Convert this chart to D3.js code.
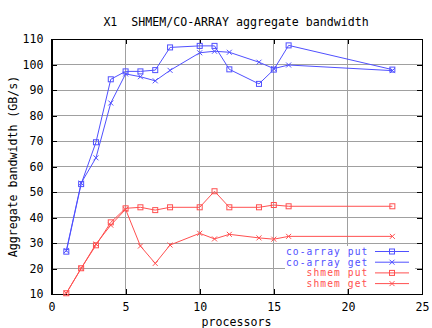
<!DOCTYPE html>
<html>
<head>
<meta charset="utf-8">
<script src="https://cdn.jsdelivr.net/npm/d3@7"></script>
<style>
  html, body { margin: 0; padding: 0; background: #fff; }
  svg { display: block; }
  text { font-family: "DejaVu Sans Mono", "Liberation Mono", monospace; font-size: 11.6px; fill: #000; white-space: pre; }
  .legend text { font-size: 9.6px; letter-spacing: 1.1px; }
</style>
</head>
<body>
<svg id="chart" width="432" height="328"></svg>
<script>
// Processor counts measured for each series
const procCoarray = [1, 2, 3, 4, 5, 6, 7, 8, 10, 11, 12, 14, 15, 16, 23];
const procShmem   = [1, 2, 3, 4, 5, 6, 7, 8, 10, 11, 12, 14, 15, 16, 23];

// Aggregate bandwidth in GB/s
const coarrayPut = [26.6, 53.1, 69.5, 94.2, 97.3, 97.3, 97.8, 106.7, 107.3, 107.3, 98.1, 92.4, 98.0, 107.5, 98.0];
const coarrayGet = [27.0, 53.5, 63.4, 84.9, 96.3, 95.2, 93.6, 97.7, 104.6, 105.2, 104.8, 100.9, 98.4, 99.8, 97.6];
const shmemPut   = [10.3, 20.1, 29.1, 38.1, 43.6, 44.0, 42.9, 44.0, 44.0, 50.3, 44.0, 44.0, 44.9, 44.4, 44.4];
const shmemGet   = [10.3, 20.0, 29.6, 37.0, 43.2, 28.8, 22.0, 29.2, 33.8, 31.6, 33.4, 32.0, 31.5, 32.6, 32.6];

const xTicks = [0, 5, 10, 15, 20, 25];
const yTicks = [10, 20, 30, 40, 50, 60, 70, 80, 90, 100, 110];

const titleText = "X1  SHMEM/CO-ARRAY aggregate bandwidth";
const xLabel = "processors";
const yLabel = "Aggregate bandwidth (GB/s)";

const blue = "#5050ff";
const red = "#ff5050";

const series = [
  { name: "co-array put", xs: procCoarray, ys: coarrayPut, color: blue, marker: "square" },
  { name: "co-array get", xs: procCoarray, ys: coarrayGet, color: blue, marker: "cross" },
  { name: "shmem put",    xs: procShmem,   ys: shmemPut,   color: red,  marker: "square" },
  { name: "shmem get",    xs: procShmem,   ys: shmemGet,   color: red,  marker: "cross" }
];

const svg = d3.select("#chart");
const plotL = 51.5, plotR = 422, plotT = 39, plotB = 294;

const x = d3.scaleLinear().domain([0, 25]).range([plotL, plotR]);
const y = d3.scaleLinear().domain([10, 110]).range([plotB, plotT]);

// Grid lines
const grid = svg.append("g").attr("shape-rendering", "crispEdges")
  .attr("stroke", "#a0a0a0").attr("stroke-width", 1);
grid.selectAll("line.gx").data(xTicks.slice(1, -1)).join("line")
  .attr("x1", d => x(d)).attr("x2", d => x(d)).attr("y1", plotT).attr("y2", plotB);
grid.selectAll("line.gy").data(yTicks.slice(1, -1)).join("line")
  .attr("x1", plotL).attr("x2", plotR).attr("y1", d => y(d)).attr("y2", d => y(d));

// Legend background hides the grid behind it
svg.append("rect").attr("x", 285).attr("y", 246).attr("width", 130).attr("height", 43)
  .attr("fill", "#fff");

// Axes: ticks drawn inward on all four sides
const tickLen = 5;
const axG = svg.append("g").attr("shape-rendering", "crispEdges");
axG.append("g").attr("transform", `translate(0,${plotB})`)
  .call(d3.axisBottom(x).tickValues(xTicks).tickSizeInner(-tickLen).tickSizeOuter(0).tickPadding(9));
axG.append("g").attr("transform", `translate(0,${plotT})`)
  .call(d3.axisTop(x).tickValues(xTicks).tickSizeInner(-tickLen).tickSizeOuter(0).tickFormat(""));
axG.append("g").attr("transform", `translate(${plotL},0)`)
  .call(d3.axisLeft(y).tickValues(yTicks).tickSizeInner(-tickLen).tickSizeOuter(0).tickPadding(8));
axG.append("g").attr("transform", `translate(${plotR},0)`)
  .call(d3.axisRight(y).tickValues(yTicks).tickSizeInner(-tickLen).tickSizeOuter(0).tickFormat(""));
axG.selectAll(".domain").attr("stroke", "#000");
axG.selectAll(".tick line").attr("stroke", "#000");
axG.selectAll("text").attr("font-family", null).attr("font-size", null).attr("fill", "#000");

// Plot frame
svg.append("rect").attr("x", plotL).attr("y", plotT).attr("width", plotR - plotL).attr("height", plotB - plotT)
  .attr("fill", "none").attr("stroke", "#000").attr("shape-rendering", "crispEdges");

// Marker drawing
function drawMarker(g, cx, cy, kind, color) {
  if (kind === "square") {
    g.append("rect").attr("x", cx - 2.5).attr("y", cy - 2.5).attr("width", 5).attr("height", 5)
      .attr("fill", "none").attr("stroke", color).attr("stroke-width", 1);
  } else {
    g.append("path").attr("d", `M${cx - 2.5},${cy - 2.5}L${cx + 2.5},${cy + 2.5}M${cx - 2.5},${cy + 2.5}L${cx + 2.5},${cy - 2.5}`)
      .attr("stroke", color).attr("stroke-width", 1).attr("fill", "none");
  }
}

const line = d3.line().x(d => x(d[0])).y(d => y(d[1]));
series.forEach(s => {
  const pts = s.xs.map((v, i) => [v, s.ys[i]]);
  const g = svg.append("g");
  g.append("path").attr("d", line(pts)).attr("fill", "none")
    .attr("stroke", s.color).attr("stroke-width", 1);
  pts.forEach(p => drawMarker(g, x(p[0]), y(p[1]), s.marker, s.color));
});

// Legend
const legend = svg.append("g").attr("class", "legend");
series.forEach((s, i) => {
  const ly = 251.5 + i * 10.7;
  legend.append("text").attr("x", 368.5).attr("y", ly).attr("text-anchor", "end")
    .attr("dominant-baseline", "central").style("fill", s.color).text(s.name);
  legend.append("line").attr("x1", 375).attr("x2", 409).attr("y1", ly).attr("y2", ly)
    .attr("stroke", s.color).attr("stroke-width", 1);
  drawMarker(legend, 392, ly, s.marker, s.color);
});

// Titles
svg.append("text").attr("x", 236).attr("y", 26).attr("text-anchor", "middle").text(titleText);
svg.append("text").attr("x", 236.5).attr("y", 322).attr("text-anchor", "middle")
  .attr("dominant-baseline", "central").text(xLabel);
svg.append("text").attr("transform", `translate(12.5,${(plotT + plotB) / 2}) rotate(-90)`)
  .attr("text-anchor", "middle").attr("dominant-baseline", "central").text(yLabel);
</script>
</body>
</html>
